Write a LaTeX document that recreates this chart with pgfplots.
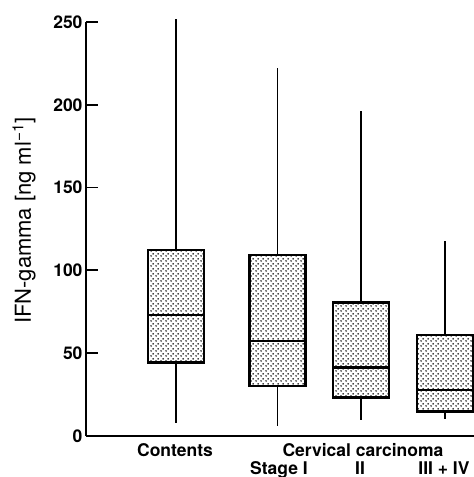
\documentclass[border=0pt]{standalone}
\usepackage{fontspec}
\setmainfont{TeX Gyre Heros}
\usepackage{pgfplots}
\pgfplotsset{compat=1.18}
\usepgfplotslibrary{statistics}
\usetikzlibrary{patterns}
\pgfdeclarepatternformonly{bigdots}{\pgfqpoint{0pt}{0pt}}{\pgfqpoint{5pt}{5pt}}{\pgfqpoint{5pt}{5pt}}{%
  \pgfpathcircle{\pgfqpoint{1.25pt}{1.25pt}}{1pt}
  \pgfpathcircle{\pgfqpoint{3.75pt}{3.75pt}}{1pt}
  \pgfusepath{fill}}
\begin{document}
\begin{tikzpicture}
\path[use as bounding box] (-86pt,-41pt) rectangle (388pt,436pt);
\begin{axis}[
  at={(0,0)}, anchor=south west,
  scale only axis, width=388pt, height=414pt,
  xmin=86, xmax=474, ymin=0, ymax=250,
  axis x line=bottom, axis y line=left,
  axis line style={-, line width=1.8pt},
  xtick=\empty,
  ytick={0,50,100,150,200,250},
  tick align=inside, major tick length=12pt,
  every tick/.style={black, line width=1.8pt},
  /pgf/number format/assume math mode=true,
  yticklabel style={font=\fontsize{17.5}{17.5}\selectfont\bfseries},
  ylabel={IFN-gamma [ng ml\textsuperscript{\textminus1}]},
  every axis y label/.style={at={(axis cs:24,130)}, rotate=90, anchor=center, font=\fontsize{22}{22}\selectfont},
  clip=false,
  boxplot/draw direction=y,
  boxplot/box extend=56,
  boxplot/whisker extend=0,
  boxplot/every box/.style={line width=2.6pt, pattern=bigdots},
  boxplot/every whisker/.style={line width=1.7pt},
  boxplot/every median/.style={line width=2.6pt},
]
\addplot[black, boxplot prepared={draw position=176, lower whisker=8, lower quartile=44.3, median=73, upper quartile=112.3, upper whisker=252}] coordinates {};
\addplot[black, boxplot prepared={draw position=277.5, lower whisker=6, lower quartile=30.2, median=57.4, upper quartile=109.3, upper whisker=222}] coordinates {};
\addplot[black, boxplot prepared={draw position=361, lower whisker=9.7, lower quartile=23.4, median=41.2, upper quartile=80.5, upper whisker=196}] coordinates {};
\addplot[black, boxplot prepared={draw position=445, lower whisker=10.3, lower quartile=14.7, median=27.8, upper quartile=61, upper whisker=118}] coordinates {};
\begin{scope}[every node/.style={font=\fontsize{17.5}{17.5}\selectfont\bfseries, anchor=base}]
\node at (axis cs:175,-12.3) {Contents};
\node at (axis cs:363,-12.3) {Cervical carcinoma};
\node at (axis cs:279,-23.2) {Stage I};
\node at (axis cs:360,-23.2) {II};
\node at (axis cs:444,-23.2) {III + IV};
\end{scope}
\end{axis}
\end{tikzpicture}
\end{document}
